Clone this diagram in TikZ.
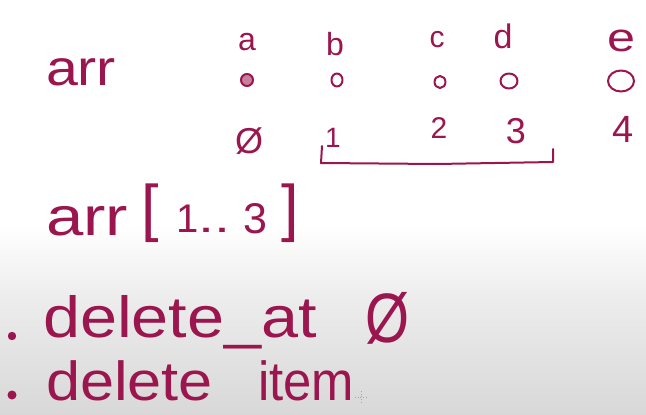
\documentclass[tikz,border=0pt]{standalone}
\usepackage{fontspec}
\usepackage{graphicx}
\setmainfont{Liberation Sans}
\definecolor{ink}{RGB}{155,22,78}
\definecolor{bgA}{RGB}{236,236,236}
\definecolor{bgB}{RGB}{216,216,216}
\newcommand{\fitw}[2]{\resizebox{#1}{\height}{#2}}
\newcommand{\fs}[1]{\fontsize{#1}{#1}\selectfont}
\tikzset{
  txt/.style={anchor=base west, inner sep=0pt, outer sep=0pt, text=ink},
  lbl/.style={anchor=base, inner sep=0pt, outer sep=0pt, text=ink},
  inkline/.style={draw=ink, line width=2pt, line cap=round, line join=round},
}
\begin{document}
\begin{tikzpicture}[x=1pt,y=1pt]
\useasboundingbox (0,0) rectangle (646,-415);
% background
\fill[white] (0,0) rectangle (646,-415);
\shade[top color=white, bottom color=bgA] (0,-225) rectangle (646,-300);
\shade[top color=bgA, bottom color=bgB] (0,-300) rectangle (646,-415);

% top "arr"
\node[txt, font=\fs{50}] (arrA) at (46,-85) {\fitw{70pt}{arr}};

% element letters
\node[lbl, font=\fs{32}] (la) at (247,-50) {a};
\node[lbl, font=\fs{32}] (lb) at (335,-55) {b};
\node[lbl, font=\fs{30}] (lc) at (437,-47) {c};
\node[lbl, font=\fs{34}] (ld) at (503,-48) {d};
\node[lbl, font=\fs{40}] (le) at (621,-52) {\fitw{28pt}{e}};

% small value circles
\draw[inkline, fill=ink!55] (247,-80) ellipse (6 and 6);
\draw[inkline] (337,-80) ellipse (5.5 and 6.5);
\draw[inkline] (440,-82) ellipse (5.5 and 6);
\draw[inkline] (509,-81) ellipse (8.5 and 7.5);
\draw[inkline] (621,-81) ellipse (13 and 10.5);

% indices
\node[lbl, font=\fs{36}] (i0) at (249,-153) {Ø};
\node[lbl, font=\fs{28}] (i1) at (333,-147) {1};
\node[lbl, font=\fs{30}] (i2) at (439,-138) {2};
\node[lbl, font=\fs{36}] (i3) at (516,-143) {3};
\node[lbl, font=\fs{38}] (i4) at (623,-142) {4};

% bracket under 1..3
\draw[inkline] (322,-146) -- (321,-163) -- (437,-164) -- (553,-162) -- (553,-149);

% arr[1..3]
\node[txt, font=\fs{54}] (arrB) at (46,-235) {\fitw{82pt}{arr}};
\node[txt, font=\fs{63}] (lbr) at (141,-229) {[};
\node[txt, font=\fs{40}] (n1) at (176,-232) {1};
\node[txt, font=\fs{40}] (dots) at (198,-232) {\fitw{32pt}{..}};
\node[txt, font=\fs{43}] (n3) at (243,-233) {3};
\node[txt, font=\fs{63}] (rbr) at (281,-229) {]};

% bullets
\fill[ink] (12,-336) circle (4.2);
\fill[ink] (12,-395) circle (4.5);

% delete_at 0
\node[txt, font=\fs{58}] (delat) at (43,-337) {\fitw{274pt}{delete\_at}};
\node[txt, font=\fs{70}] (zero) at (365,-342) {\fitw{44pt}{Ø}};

% delete item
\node[txt, font=\fs{55}] (del) at (46,-400) {\fitw{167pt}{delete}};
\node[txt, font=\fs{55}] (item) at (258,-400) {\fitw{96pt}{item}};

% cursor
\draw[gray!70, dotted, line width=0.7pt] (355,-397) -- (367,-397);
\draw[gray!70, dotted, line width=0.7pt] (361,-391) -- (361,-403);
\end{tikzpicture}
\end{document}
